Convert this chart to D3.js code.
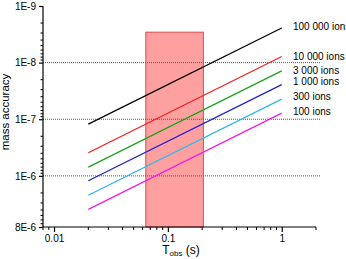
<!DOCTYPE html>
<html>
<head>
<meta charset="utf-8">
<script src="https://cdn.jsdelivr.net/npm/d3@7"></script>
<style>
  body { margin: 0; background: #fff; }
  svg text { font-family: "Liberation Sans", Arial, sans-serif; }
</style>
</head>
<body>
<svg width="346" height="259"></svg>
<script>
// data
const times = [0.02, 1]
const ionCounts = ['100 000 ions', '10 000 ions', '3 000 ions', '1 000 ions', '300 ions', '100 ions']
const acc100k = [1.22e-7, 2.45e-9]
const acc10k = [3.9e-7, 7.8e-9]
const acc3k = [7.0e-7, 1.4e-8]
const acc1k = [1.22e-6, 2.45e-8]
const acc300 = [2.2e-6, 4.4e-8]
const acc100 = [3.9e-6, 7.8e-8]
const windowT = [0.064, 0.205]
const windowTop = 2.9e-9
const yTicks = [1e-9, 1e-8, 1e-7, 1e-6, 8e-6]
const yTickLabels = ['1E-9', '1E-8', '1E-7', '1E-6', '8E-6']
const xTicks = [0.01, 0.1, 1]
const xTickLabels = ['0.01', '0.1', '1']
const gridValues = [1e-8, 1e-7, 1e-6]

const series = [acc100k, acc10k, acc3k, acc1k, acc300, acc100]
const colors = ['#000000', '#f02020', '#20a020', '#2020c8', '#30b8e8', '#f020e0']
const labelDy = [-2, 0, 0, -3, -3, -2]

const svg = d3.select('svg')
const x = d3.scaleLog().domain([0.008, 2]).range([43, 316])
const y = d3.scaleLog().domain([1e-9, 8e-6]).range([6, 227])

// observation window
svg.append('rect')
  .attr('x', x(windowT[0]))
  .attr('y', y(windowTop))
  .attr('width', x(windowT[1]) - x(windowT[0]))
  .attr('height', y(8e-6) - y(windowTop))
  .style('fill', '#ffa0a0')
  .style('stroke', '#e04848')
  .style('stroke-width', 1)

// dotted reference lines
svg.selectAll('.grid')
  .data(gridValues)
  .join('line')
  .attr('class', 'grid')
  .attr('x1', 43)
  .attr('x2', 320)
  .attr('y1', d => y(d))
  .attr('y2', d => y(d))
  .style('stroke', '#555')
  .style('stroke-width', 1)
  .style('stroke-dasharray', '1,1')

const line = d3.line()
  .x((d, i) => x(times[i]))
  .y(d => y(d))

svg.selectAll('.series')
  .data(series)
  .join('path')
  .attr('class', 'series')
  .attr('d', d => line(d))
  .style('fill', 'none')
  .style('stroke', (d, i) => colors[i])
  .style('stroke-width', 1.3)

svg.selectAll('.lbl')
  .data(ionCounts)
  .join('text')
  .attr('class', 'lbl')
  .attr('x', 293)
  .attr('y', (d, i) => y(series[i][1]) + labelDy[i])
  .attr('dy', '0.35em')
  .style('font-size', '10px')
  .text(d => d)

// y axis
let yMinor = []
for (let e = -9; e <= -6; e++) {
  for (let m = 2; m <= 9; m++) {
    let v = m * Math.pow(10, e)
    if (v < 8e-6) yMinor.push(v)
  }
}
const yAxis = d3.axisLeft(y)
  .tickValues(yTicks)
  .tickFormat((d, i) => yTickLabels[i])
  .tickSize(4)
  .tickPadding(3)
const yg = svg.append('g').attr('transform', 'translate(43,0)').call(yAxis)
yg.selectAll('.tick line').style('stroke-width', 1.2)
yg.select('.domain').attr('d', `M0,${y(1e-9)}V${y(8e-6)}`).style('stroke-width', 1.2)
yg.selectAll('.minor')
  .data(yMinor)
  .join('line')
  .attr('class', 'minor')
  .attr('x1', -2.5)
  .attr('x2', 0)
  .attr('y1', d => y(d))
  .attr('y2', d => y(d))
  .style('stroke', '#000')
yg.selectAll('text').style('font-size', '10px').style('font-family', '"Liberation Sans", Arial, sans-serif')

// x axis
let xMinor = [0.008, 0.009]
for (let e = -2; e <= 0; e++) {
  for (let m = 2; m <= 9; m++) {
    let v = m * Math.pow(10, e)
    if (v <= 2) xMinor.push(v)
  }
}
const xAxis = d3.axisBottom(x)
  .tickValues(xTicks)
  .tickFormat((d, i) => xTickLabels[i])
  .tickSize(5)
  .tickPadding(3)
const xg = svg.append('g').attr('transform', 'translate(0,227)').call(xAxis)
xg.selectAll('.tick line').style('stroke-width', 1.2)
xg.select('.domain').attr('d', `M${x(0.008)},0H${x(2)}`).style('stroke-width', 1.2)
xg.selectAll('.minor')
  .data(xMinor)
  .join('line')
  .attr('class', 'minor')
  .attr('x1', d => x(d))
  .attr('x2', d => x(d))
  .attr('y1', 0)
  .attr('y2', 3)
  .style('stroke', '#000')
xg.selectAll('text').style('font-size', '10px').style('font-family', '"Liberation Sans", Arial, sans-serif')

// axis titles
svg.append('text')
  .attr('transform', 'translate(9,112) rotate(-90)')
  .attr('text-anchor', 'middle')
  .style('font-size', '11.5px')
  .text('mass accuracy')

const xt = svg.append('text')
  .attr('x', 181)
  .attr('y', 254)
  .attr('text-anchor', 'middle')
  .style('font-size', '12px')
xt.append('tspan').text('T')
xt.append('tspan').attr('dy', 2).style('font-size', '8px').text('obs')
xt.append('tspan').attr('dy', -2).text(' (s)')
</script>
</body>
</html>
